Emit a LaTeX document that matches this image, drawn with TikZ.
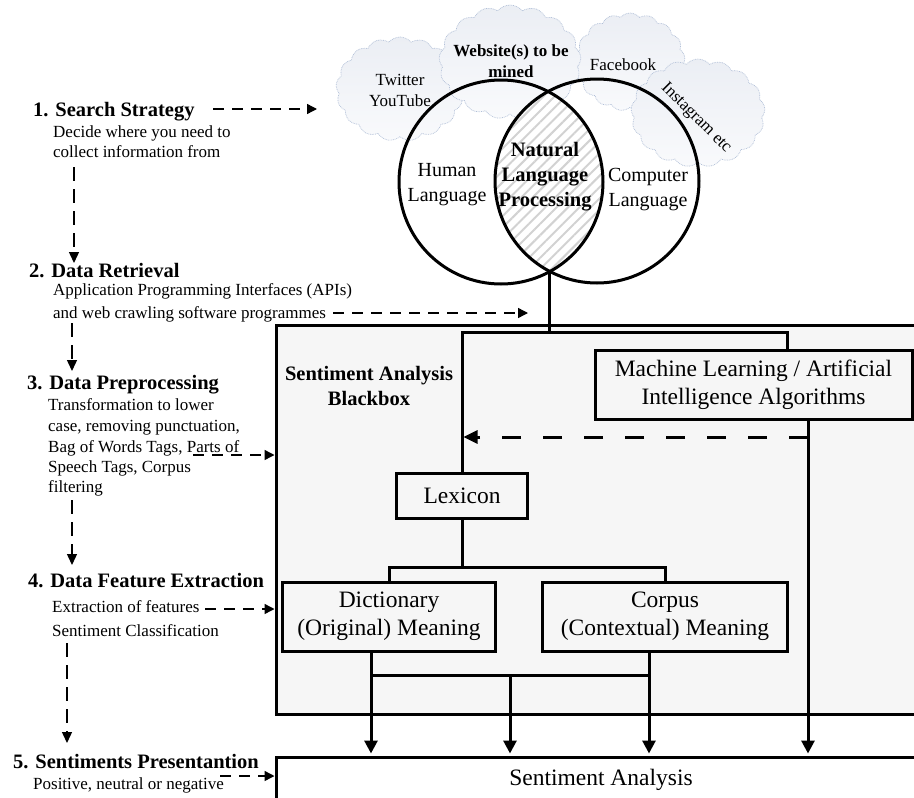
\documentclass[tikz,border=0pt]{standalone}
\usepackage{fontspec}
\setmainfont{Liberation Serif}
\usetikzlibrary{arrows.meta,shapes.symbols,patterns.meta}
\definecolor{cloudtop}{RGB}{235,238,244}
\definecolor{cloudbot}{RGB}{249,250,252}
\definecolor{cloudline}{RGB}{178,192,216}
\definecolor{boxbg}{RGB}{246,246,246}
\begin{document}
\begin{tikzpicture}[x=1pt,y=-1pt,
  hdr/.style={anchor=base west,inner sep=0pt,font=\fontsize{20.5}{24}\selectfont\bfseries},
  desc/.style={anchor=base west,inner sep=0pt,font=\fontsize{17}{20}\selectfont},
  thindash/.style={line width=1.4pt,dash pattern=on 11pt off 8pt,-{Triangle[width=10pt,length=10pt]}},
  thindashline/.style={line width=1.4pt,dash pattern=on 14pt off 8pt,-{Triangle[width=10pt,length=11pt]}},
  conn/.style={line width=3pt},
  conarrow/.style={line width=3pt,-{Triangle[width=13pt,length=13pt]}},
  bigdash/.style={line width=3pt,dash pattern=on 19pt off 22pt,-{Triangle[width=13pt,length=14pt]}},
  sbox/.style={draw,line width=3pt,inner sep=0pt,align=center,font=\fontsize{23.5}{28}\selectfont},
  cloudy/.style={cloud,cloud puffs=17,cloud puff arc=100,draw=cloudline,line width=0.7pt,
    dash pattern=on 0.8pt off 0.9pt,top color=cloudtop,bottom color=cloudbot,inner sep=0pt},
  ctxt/.style={align=center,inner sep=0pt,font=\fontsize{17}{21}\selectfont},
  vtxt/.style={align=center,inner sep=0pt,font=\fontsize{20}{25}\selectfont}
]
\fill[white] (0,0) rectangle (914,798);
\useasboundingbox (0,0) rectangle (914,798);
\clip (0,0) rectangle (914,798);

% clouds
\node[cloudy,minimum width=128pt,minimum height=104pt] (cl1) at (400,89) {};
\node[cloudy,minimum width=110pt,minimum height=98pt] (cl3) at (630,62) {};
\node[cloudy,minimum width=134pt,minimum height=108pt] (cl4) at (698,113) {};
\node[cloudy,minimum width=142pt,minimum height=114pt] (cl2) at (510,62) {};

\node[ctxt] (tw) at (400,90) {Twitter\\YouTube};
\node[ctxt,font=\fontsize{17}{21}\selectfont\bfseries] (ws) at (511,61) {Website(s) to be\\mined};
\node[ctxt] (fb) at (623,65) {Facebook};
\node[ctxt,rotate=-45] (ig) at (696,118) {Instagram etc};

% Venn
\coordinate (cL) at (501,182);
\coordinate (cR) at (597,181);
\begin{scope}
  \clip (cL) circle[radius=102];
  \fill[white] (cR) circle[radius=102];
  \fill[pattern={Lines[angle=45,distance=8pt,line width=2pt]},pattern color=gray!35] (cR) circle[radius=102];
\end{scope}
\node[circle,draw,line width=3pt,minimum size=204pt,inner sep=0pt] (hum) at (cL) {};
\node[circle,draw,line width=3pt,minimum size=204pt,inner sep=0pt] (comp) at (cR) {};
\node[vtxt] (th) at (447,185) {Human\\Language};
\node[vtxt,font=\fontsize{20.5}{25}\selectfont\bfseries] (tn) at (545,177) {Natural\\Language\\Processing};
\node[vtxt] (tc) at (648,190) {Computer\\Language};
\coordinate (nlpb) at (549.5,271.5);

% big box
\node[draw,line width=3pt,fill=boxbg,minimum width=650pt,minimum height=389pt,inner sep=0pt] (bb) at (601,519.5) {};
\node[align=center,inner sep=0pt,font=\fontsize{20.5}{25}\selectfont\bfseries] (bbl) at (369,386) {Sentiment Analysis\\Blackbox};

% boxes
\node[sbox,minimum width=317pt,minimum height=69pt] (ml) at (753.5,384.5) {Machine Learning / Artificial\\Intelligence Algorithms};
\node[sbox,minimum width=131pt,minimum height=45pt] (lex) at (462,495.5) {Lexicon};
\node[sbox,minimum width=213pt,minimum height=69pt] (dict) at (389,616.5) {Dictionary\\(Original) Meaning};
\node[sbox,minimum width=245pt,minimum height=69pt] (corp) at (665,616.5) {Corpus\\(Contextual) Meaning};
\node[sbox,fill=white,minimum width=650pt,minimum height=46pt] (sa) at (601,780) {Sentiment Analysis};

% connectors
\coordinate (j0) at (549.5,332);
\coordinate (jl) at (462,332);
\coordinate (jr) at (787,332);
\draw[conn] (nlpb) -- (j0);
\draw[conn,line cap=rect] (jl) -- (jr);
\draw[conn] (jl) -- (lex.north);
\draw[conn] (jr) -- (jr |- ml.north);
\coordinate (mlx) at (808,437);
\coordinate (lexin) at (463.5,437);
\draw[conn] (ml.south -| mlx) -- (mlx);
\draw[conarrow,shorten >=2pt] (mlx) -- (mlx |- sa.north);
\draw[bigdash] (mlx) -- (lexin);
\coordinate (j2) at (462,567);
\draw[conn] (lex.south) -- (j2);
\draw[conn] (dict.north) |- (j2) -| (corp.north);
\coordinate (b1) at (371,675);
\coordinate (b2) at (649,675);
\coordinate (bm) at (510,675);
\draw[conarrow,shorten >=2pt] (dict.south -| b1) -- (b1 |- sa.north);
\draw[conarrow,shorten >=2pt] (corp.south -| b2) -- (b2 |- sa.north);
\draw[conn,line cap=rect] (b1) -- (b2);
\draw[conarrow,shorten >=2pt] (bm) -- (bm |- sa.north);

% left texts
\node[hdr] (h1) at (33,116) {1. Search Strategy};
\node[desc] (d1a) at (53,137) {Decide where you need to};
\node[desc] (d1b) at (53,157) {collect information from};
\node[hdr] (h2) at (29,277) {2. Data Retrieval};
\node[desc] (d2a) at (53,295) {Application Programming Interfaces (APIs)};
\node[desc] (d2b) at (53,318) {and web crawling software programmes};
\node[hdr] (h3) at (27,389) {3. Data Preprocessing};
\node[desc] (d3a) at (48,410) {Transformation to lower};
\node[desc] (d3b) at (48,431) {case, removing punctuation,};
\node[desc] (d3c) at (48,452) {Bag of Words Tags, Parts of};
\node[desc] (d3d) at (48,472) {Speech Tags, Corpus};
\node[desc] (d3e) at (48,492) {filtering};
\node[hdr] (h4) at (28,587) {4. Data Feature Extraction};
\node[desc] (d4a) at (52,612) {Extraction of features};
\node[desc] (d4b) at (52,636) {Sentiment Classification};
\node[hdr] (h5) at (13,768) {5. Sentiments Presentantion};
\node[desc] (d5a) at (33,789) {Positive, neutral or negative};

% left dashed arrows
\coordinate (a1s) at (213,109); \coordinate (a1e) at (317,109);
\draw[thindash] (a1s) -- (a1e);
\coordinate (v1s) at (74,167); \coordinate (v1e) at (74,263);
\draw[thindashline] (v1s) -- (v1e);
\coordinate (a2s) at (333,313); \coordinate (a2e) at (528,313);
\draw[thindash] (a2s) -- (a2e);
\coordinate (v2s) at (72,323); \coordinate (v2e) at (72,371);
\draw[thindashline] (v2s) -- (v2e);
\coordinate (a3s) at (193,455);
\draw[thindash] (a3s) -- (a3s -| bb.west);
\coordinate (v3s) at (72,500); \coordinate (v3e) at (72,565);
\draw[thindashline] (v3s) -- (v3e);
\coordinate (a4s) at (205,609);
\draw[thindash] (a4s) -- (a4s -| bb.west);
\coordinate (v4s) at (67,643); \coordinate (v4e) at (67,743);
\draw[thindashline] (v4s) -- (v4e);
\coordinate (a5s) at (220,776);
\draw[thindash] (a5s) -- (a5s -| sa.west);
\end{tikzpicture}
\end{document}
